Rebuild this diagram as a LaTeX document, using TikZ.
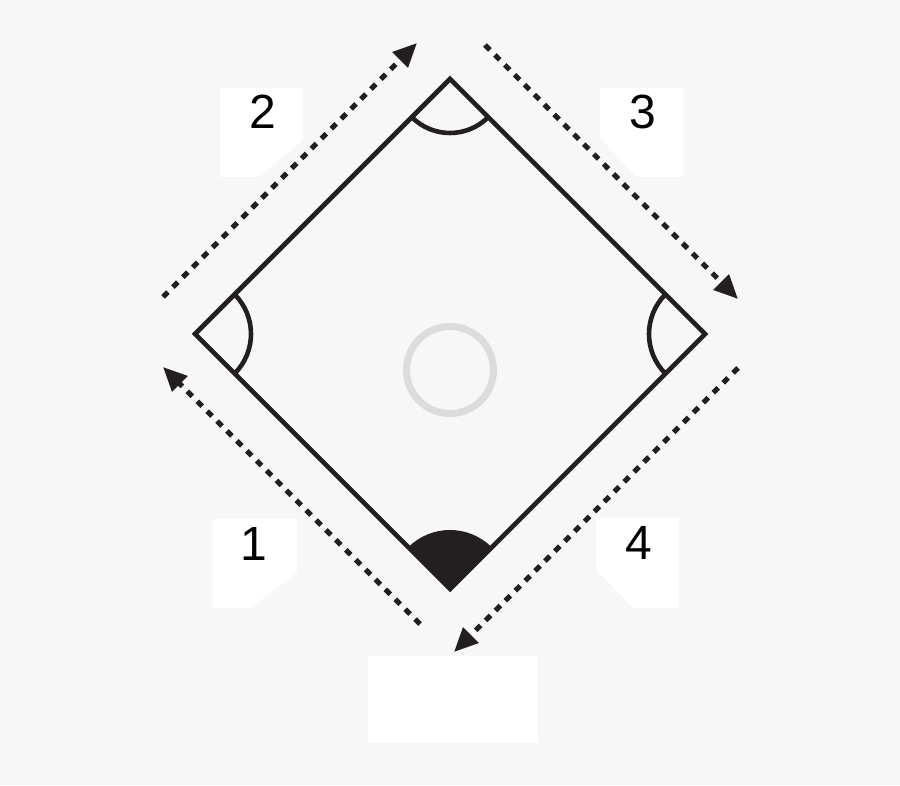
\documentclass[tikz,border=0pt]{standalone}
\usepackage{fontspec}
\setmainfont{Liberation Sans}
\usetikzlibrary{arrows.meta}
\definecolor{bggray}{HTML}{F7F7F7}
\definecolor{ink}{HTML}{231F20}
\definecolor{ringgray}{HTML}{DCDCDC}
\begin{document}
\begin{tikzpicture}[x=1pt,y=1pt,
  baseline2/.style={draw=ink,line width=4.6pt},
  runarrow/.style={draw=ink,line width=5pt,dash pattern=on 7pt off 7pt,-{Triangle[length=24pt,width=21pt]}},
  tagbox/.style={fill=white},
  num/.style={font=\fontsize{48}{48}\selectfont,inner sep=0pt}]
\fill[bggray] (0,0) rectangle (900,785);
\useasboundingbox (0,0) rectangle (900,785);

% white label boxes
\fill[tagbox] (220,697)--(303,697)--(303,645)--(259,608)--(220,608)--cycle;
\fill[tagbox] (600,697)--(683,697)--(683,608)--(637,608)--(600,647)--cycle;
\fill[tagbox] (213,266)--(297,266)--(297,213)--(251,177)--(213,177)--cycle;
\fill[tagbox] (596,267)--(679,267)--(679,177)--(633,177)--(596,215)--cycle;
\fill[tagbox] (368,42) rectangle (538,129);

\node[num] (n2) at (263,673) {2};
\node[num] (n3) at (643,673) {3};
\node[num] (n1) at (254,241) {1};
\node[num] (n4) at (639,242) {4};

% diamond
\coordinate (top) at (450,706);
\coordinate (right) at (705,451);
\coordinate (bottom) at (450,196);
\coordinate (left) at (195,451);
\draw[baseline2] (top)--(right)--(bottom)--(left)--cycle;

\draw[baseline2] ([shift={(225:54pt)}]top) arc[start angle=225,end angle=315,radius=54pt];
\draw[baseline2] ([shift={(-45:56pt)}]left) arc[start angle=-45,end angle=45,radius=56pt];
\draw[baseline2] ([shift={(135:56pt)}]right) arc[start angle=135,end angle=225,radius=56pt];
\fill[ink] (bottom)--([shift={(45:59pt)}]bottom) arc[start angle=45,end angle=135,radius=59pt]--cycle;

\draw[ringgray,line width=7pt] (450,415) circle[radius=43.5pt];

% running arrows
\coordinate (s1) at (420,161);
\coordinate (e1) at (163,418);
\coordinate (s2) at (163,488);
\coordinate (e2) at (417,742);
\coordinate (s3) at (485,740);
\coordinate (e3) at (738,486);
\coordinate (s4) at (738,417);
\coordinate (e4) at (454,133);
\draw[runarrow] (s1)--(e1);
\draw[runarrow] (s2)--(e2);
\draw[runarrow] (s3)--(e3);
\draw[runarrow] (s4)--(e4);
\end{tikzpicture}
\end{document}
